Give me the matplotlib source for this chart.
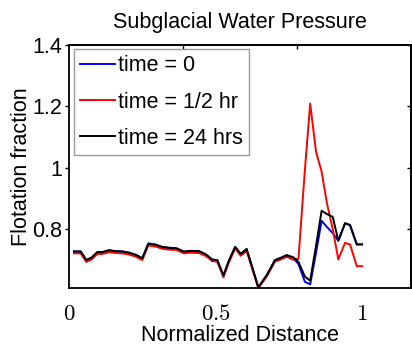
import matplotlib
matplotlib.use("Agg")
import matplotlib.pyplot as plt

plt.rcParams['font.family'] = ['Liberation Sans', 'DejaVu Sans']
plt.rcParams['mathtext.fontset'] = 'cm'

x = [0.017, 0.040, 0.059, 0.077, 0.097, 0.114, 0.137, 0.159, 0.182, 0.205,
     0.228, 0.250, 0.271, 0.296, 0.318, 0.341, 0.366, 0.392, 0.415, 0.444,
     0.467, 0.489, 0.506, 0.527, 0.544, 0.567, 0.586, 0.606, 0.626, 0.646,
     0.675, 0.703, 0.720, 0.743, 0.766, 0.783, 0.805, 0.823, 0.843, 0.862,
     0.880, 0.900, 0.919, 0.942, 0.959, 0.982, 1.000]

black = [0.727, 0.727, 0.699, 0.707, 0.725, 0.725, 0.731, 0.728, 0.727, 0.723,
         0.716, 0.705, 0.753, 0.749, 0.742, 0.739, 0.738, 0.727, 0.729, 0.728,
         0.718, 0.701, 0.699, 0.650, 0.693, 0.742, 0.719, 0.735, 0.673, 0.610,
         0.650, 0.699, 0.705, 0.715, 0.708, 0.693, 0.645, 0.632, 0.746, 0.860,
         0.849, 0.840, 0.762, 0.819, 0.813, 0.750, 0.750]

blue = [0.727, 0.727, 0.699, 0.707, 0.725, 0.725, 0.731, 0.728, 0.727, 0.723,
        0.716, 0.705, 0.753, 0.749, 0.742, 0.739, 0.736, 0.725, 0.729, 0.728,
        0.716, 0.695, 0.699, 0.643, 0.693, 0.742, 0.719, 0.735, 0.673, 0.610,
        0.650, 0.699, 0.705, 0.715, 0.705, 0.686, 0.628, 0.620, 0.723, 0.827,
        0.807, 0.787, 0.762, 0.819, 0.813, 0.750, 0.750]

red = [0.721, 0.721, 0.693, 0.701, 0.719, 0.719, 0.725, 0.722, 0.721, 0.717,
       0.710, 0.699, 0.747, 0.743, 0.736, 0.733, 0.732, 0.721, 0.723, 0.722,
       0.712, 0.697, 0.693, 0.645, 0.688, 0.737, 0.713, 0.729, 0.668, 0.608,
       0.646, 0.694, 0.700, 0.710, 0.700, 0.703, 0.994, 1.209, 1.052, 0.987,
       0.885, 0.800, 0.701, 0.755, 0.750, 0.679, 0.679]

labels = ['time = 0', 'time = 1/2 hr', 'time = 24 hrs']
title = 'Subglacial Water Pressure'
xlabel = 'Normalized Distance'
ylabel = 'Flotation fraction'
xtick_vals = [0, 0.5, 1]
xtick_labels = [r'$0$', r'$0.5$', r'$1$']
ytick_vals = [0.8, 1.0, 1.2, 1.4]
ytick_labels = ['0.8', '1', '1.2', '1.4']
top_ticks = [0.389, 0.778]

W, H = 412, 345
fig = plt.figure(figsize=(W / 100, H / 100), dpi=100)
L, R, T, B = 69, 411, 45, 288
ax = fig.add_axes([L / W, 1 - B / H, (R - L) / W, (B - T) / H])

ax.plot(x, blue, color=(0, 0, 1), lw=1.4, label=labels[0])
ax.plot(x, red, color=(1, 0, 0), lw=1.4, label=labels[1])
ax.plot(x, black, color='black', lw=1.4, label=labels[2])

ax.set_xlim(0, 1.167)
ax.set_ylim(0.608, 1.4)

fs = 15.5
ax.set_xticks(xtick_vals)
ax.set_xticklabels(xtick_labels, fontsize=16.5)
ax.tick_params(axis='x', length=0, pad=10)
ax.set_yticks(ytick_vals)
ax.set_yticklabels(ytick_labels, fontsize=fs)
ax.tick_params(axis='y', direction='out', length=3, width=1, pad=2)

sx = ax.secondary_xaxis('top')
sx.set_xticks(top_ticks)
sx.set_xticklabels([])
sx.tick_params(direction='in', length=3, width=1)

sy = ax.secondary_yaxis('right')
sy.set_yticks(ytick_vals)
sy.set_yticklabels([])
sy.tick_params(direction='in', length=3, width=1)

for s in list(ax.spines.values()) + list(sx.spines.values()) + list(sy.spines.values()):
    s.set_linewidth(1.3)

ax.set_title(title, fontsize=fs, pad=12)
ax.set_xlabel(xlabel, fontsize=fs, labelpad=0)
ax.set_ylabel(ylabel, fontsize=fs, labelpad=0)

leg = ax.legend(loc='upper left', bbox_to_anchor=(5 / (R - L), 1 - 4 / (B - T)),
                borderaxespad=0, fontsize=fs, frameon=True, fancybox=False,
                handlelength=1.6, handletextpad=0.15, labelspacing=0.7,
                borderpad=0.3)
leg.get_frame().set_edgecolor('#808080')
leg.get_frame().set_linewidth(1.0)

fig.savefig('out.png', dpi=100)
